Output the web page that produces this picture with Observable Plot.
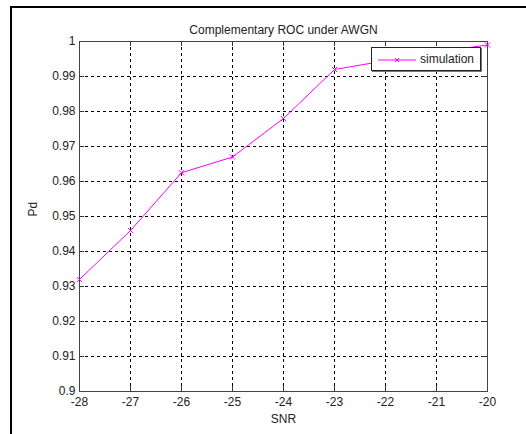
<!DOCTYPE html>
<html><head><meta charset="utf-8">
<script src="https://cdn.jsdelivr.net/npm/d3@7"></script>
<script src="https://cdn.jsdelivr.net/npm/@observablehq/plot@0.6"></script>
<style>
body{margin:0;background:#fff;}
#wrap{position:relative;width:526px;height:434px;overflow:hidden;font-family:"Liberation Sans",Arial,sans-serif;}
#border{position:absolute;left:10px;top:6px;width:600px;height:600px;border-left:2px solid #000;border-top:2px solid #000;pointer-events:none;}
#legend{position:absolute;left:371px;top:47px;width:108px;height:22px;border:1px solid #222;background:#fff;box-shadow:1px 1px 0 #777;font-size:12px;color:#222;}
#legend svg{position:absolute;left:6px;top:6px;}
#legend span{position:absolute;left:48px;top:4px;}
</style></head><body>
<div id="wrap"><div id="chart"></div><div id="border"></div>
<div id="legend"><svg width="40" height="12"><line x1="0" y1="6" x2="38" y2="6" stroke="#ff00ff"/><path d="M17,4 L21,8 M21,4 L17,8" stroke="#ff00ff"/></svg><span id="legtext"></span></div>
</div>
<script>
const title = "Complementary ROC under AWGN";
const xLabel = "SNR";
const yLabel = "Pd";
const seriesName = "simulation";
const snr = [-28, -27, -26, -25, -24, -23, -22, -21, -20];
const pd = [0.932, 0.946, 0.9625, 0.967, 0.978, 0.992, 0.9945, 0.997, 0.999];
const xTicks = [-28, -27, -26, -25, -24, -23, -22, -21, -20];
const yTicks = [0.9, 0.91, 0.92, 0.93, 0.94, 0.95, 0.96, 0.97, 0.98, 0.99, 1];
const yTickLabels = ["0.9", "0.91", "0.92", "0.93", "0.94", "0.95", "0.96", "0.97", "0.98", "0.99", "1"];

const data = snr.map((x, i) => ({snr: x, pd: pd[i]}));
const magenta = "#ff00ff";

const W = 526, H = 434, mL = 79, mR = 39, mT = 41, mB = 43;
const innerW = W - mL - mR, innerH = H - mT - mB;

const plot = Plot.plot({
  width: W, height: H,
  marginLeft: mL, marginRight: mR, marginTop: mT, marginBottom: mB,
  style: {fontFamily: '"Liberation Sans", Arial, sans-serif', fontSize: "12px", color: "#222", background: "#fff", overflow: "visible"},
  x: {domain: [-28, -20]},
  y: {domain: [0.9, 1]},
  marks: [
    Plot.gridX(xTicks, {stroke: "#000", strokeOpacity: 1, strokeDasharray: "3,3"}),
    Plot.gridY(yTicks, {stroke: "#000", strokeOpacity: 1, strokeDasharray: "3,3"}),
    Plot.tickX(xTicks, {x: d => d, stroke: "#333", insetTop: innerH - 5}),
    Plot.tickX(xTicks, {x: d => d, stroke: "#333", insetBottom: innerH - 5}),
    Plot.tickY(yTicks, {y: d => d, stroke: "#333", insetRight: innerW - 5}),
    Plot.tickY(yTicks, {y: d => d, stroke: "#333", insetLeft: innerW - 5}),
    Plot.frame({stroke: "#444"}),
    Plot.axisX(xTicks, {anchor: "bottom", tickSize: 0, tickPadding: 6, label: null, tickFormat: d => String(d).replace("−", "-"), fill: "#222"}),
    Plot.axisY(yTicks, {anchor: "left", tickSize: 0, tickPadding: 4, label: null, tickFormat: (d, i) => yTickLabels[yTicks.indexOf(d)], fill: "#222"}),
    Plot.line(data, {x: "snr", y: "pd", stroke: magenta, strokeWidth: 1}),
    Plot.dot(data, {x: "snr", y: "pd", symbol: "times", r: 2.5, stroke: magenta, strokeWidth: 1}),
    Plot.text([title], {frameAnchor: "top", dy: -16, text: d => d, fill: "#222", fontSize: 12}),
    Plot.text([xLabel], {frameAnchor: "bottom", dy: 31, text: d => d, fill: "#222", fontSize: 12}),
    Plot.text([yLabel], {frameAnchor: "left", dx: -46, rotate: -90, text: d => d, fill: "#222", fontSize: 12})
  ]
});
document.getElementById("chart").appendChild(plot);
document.getElementById("legtext").textContent = seriesName;
</script>
</body></html>
